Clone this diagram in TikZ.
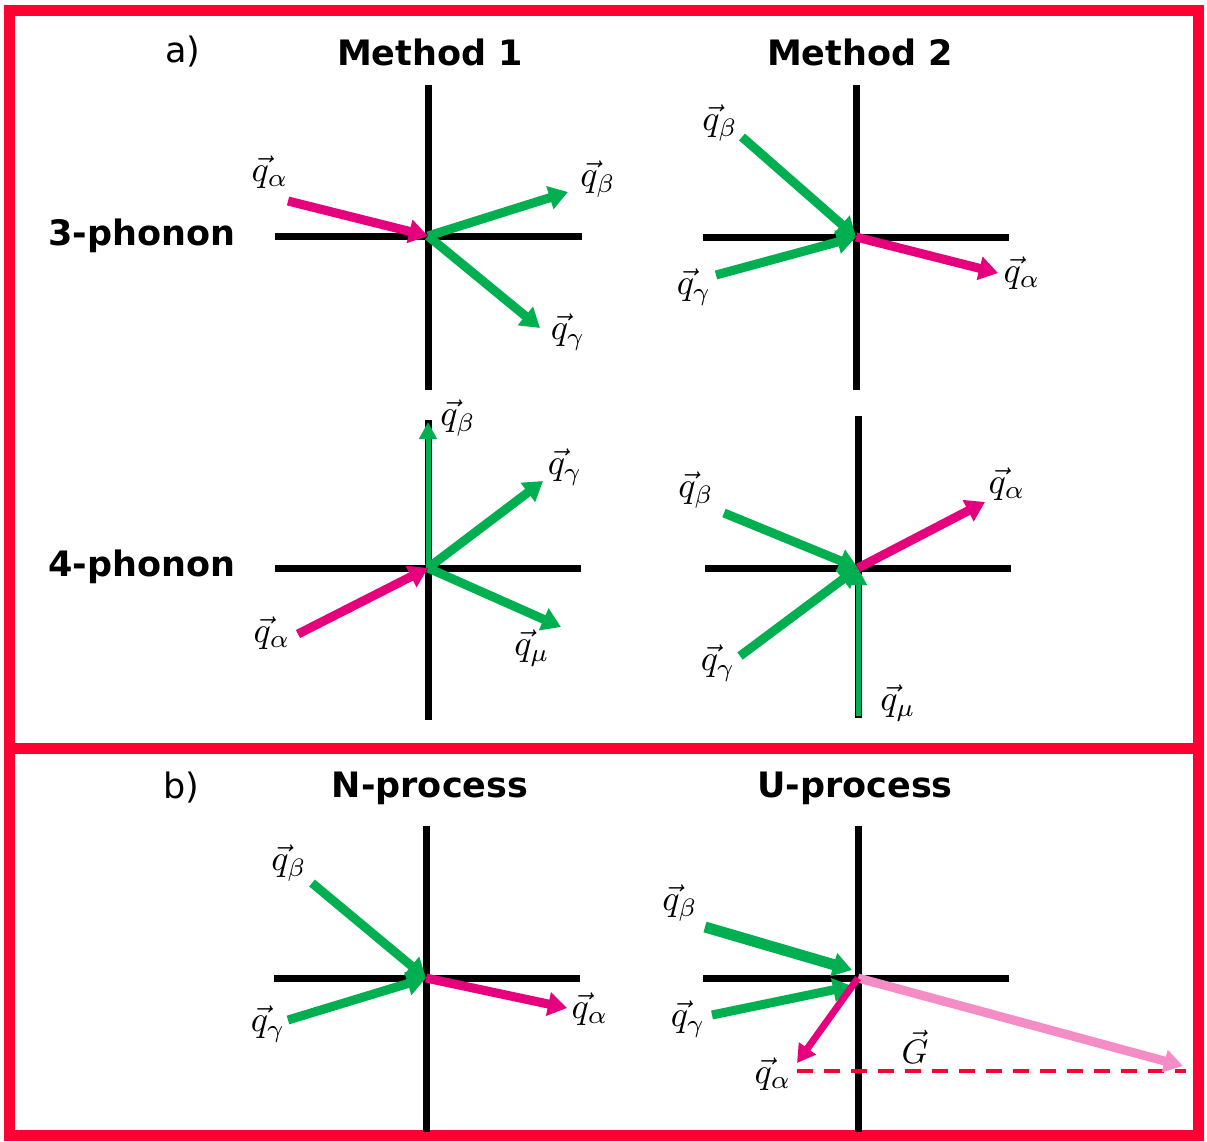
\documentclass[tikz,border=0pt]{standalone}
\usepackage{fontspec}
\setmainfont{DejaVu Sans}
\usetikzlibrary{arrows.meta}
\definecolor{fr}{RGB}{255,0,51}
\definecolor{gr}{RGB}{0,176,80}
\definecolor{mg}{RGB}{230,0,126}
\newcommand{\qv}[1]{\scalebox{3.6}{$\vec{q}_{#1}$}}
\newcommand{\Gv}{\scalebox{3.4}{$\vec{G}$}}
\tikzset{
 axis/.style={line width=7pt, black},
 vec/.style={line width=9pt, -{Triangle[length=19pt,width=23pt]}},
 thinvec/.style={line width=5pt, -{Triangle[length=17pt,width=17pt]}},
 gvec/.style={vec, draw=gr},
 mvec/.style={vec, draw=mg},
 lbl/.style={inner sep=0pt},
 ttl/.style={font=\fontsize{35}{42}\selectfont\bfseries, inner sep=0pt},
 plain/.style={font=\fontsize{35}{42}\selectfont, inner sep=0pt},
}
\begin{document}
\begin{tikzpicture}[x=1pt,y=-1pt]
\useasboundingbox (0,0) rectangle (1207,1142);
% frame
\draw[fr, line width=11pt] (9,11) rectangle (1198,1135);
\draw[fr, line width=11pt] (9,748) -- (1198,748);
% titles
\node[plain] (ta) at (183,52) {a)};
\node[ttl] (tm1) at (430,52) {Method 1};
\node[ttl] (tm2) at (860,52) {Method 2};
\node[ttl] (t3) at (142,236) {3-phonon};
\node[ttl] (t4) at (142,567) {4-phonon};
\node[plain] (tb) at (181,788) {b)};
\node[ttl] (tn) at (430,788) {N-process};
\node[ttl] (tu) at (855,788) {U-process};

% ---------- panel 1: method 1, 3-phonon
\coordinate (O1) at (428,236);
\draw[axis] (428,85) -- (428,390);
\draw[axis] (275,236) -- (582,236);
\coordinate (a1) at (288,201);
\coordinate (b1) at (568,192);
\coordinate (c1) at (540,328);
\draw[mvec] (a1) -- (O1);
\draw[gvec] (O1) -- (b1);
\draw[gvec] (O1) -- (c1);
\node[lbl] (la1) at (270,172) {\qv\alpha};
\node[lbl] (lb1) at (598,179) {\qv\beta};
\node[lbl] (lc1) at (568,332) {\qv\gamma};

% ---------- panel 2: method 2, 3-phonon
\coordinate (O2) at (856,237);
\draw[axis] (856,85) -- (856,390);
\draw[axis] (703,237) -- (1009,237);
\coordinate (b2) at (742,137);
\coordinate (c2) at (716,275);
\coordinate (a2) at (998,273);
\draw[gvec] (b2) -- (O2);
\draw[gvec] (c2) -- (O2);
\draw[mvec] (O2) -- (a2);
\node[lbl] (lb2) at (720,123) {\qv\beta};
\node[lbl] (lc2) at (694,287) {\qv\gamma};
\node[lbl] (la2) at (1022,273) {\qv\alpha};

% ---------- panel 3: method 1, 4-phonon
\coordinate (O3) at (428,568);
\draw[axis] (428,420) -- (428,720);
\draw[axis] (275,568) -- (581,568);
\coordinate (b3) at (428,422);
\coordinate (c3) at (543,481);
\coordinate (m3) at (561,627);
\coordinate (a3) at (298,634);
\draw[thinvec, draw=gr] (O3) -- (b3);
\draw[gvec] (O3) -- (c3);
\draw[gvec] (O3) -- (m3);
\draw[mvec] (a3) -- (O3);
\node[lbl] (lb3) at (458,418) {\qv\beta};
\node[lbl] (lc3) at (565,467) {\qv\gamma};
\node[lbl] (lm3) at (532,648) {\qv\mu};
\node[lbl] (la3) at (272,633) {\qv\alpha};

% ---------- panel 4: method 2, 4-phonon
\coordinate (O4) at (858,568);
\draw[axis] (858,416) -- (858,718);
\draw[axis] (705,568) -- (1011,568);
\coordinate (b4) at (724,513);
\coordinate (c4) at (740,656);
\coordinate (m4) at (858,716);
\coordinate (a4) at (985,502);
\draw[gvec] (b4) -- (O4);
\draw[gvec] (c4) -- (O4);
\draw[thinvec, draw=gr] (m4) -- (O4);
\draw[mvec] (O4) -- (a4);
\node[lbl] (lb4) at (696,490) {\qv\beta};
\node[lbl] (lc4) at (718,663) {\qv\gamma};
\node[lbl] (lm4) at (898,703) {\qv\mu};
\node[lbl] (la4) at (1007,484) {\qv\alpha};

% ---------- panel 5: N-process
\coordinate (O5) at (426,978);
\draw[axis] (426,826) -- (426,1132);
\draw[axis] (274,978) -- (580,978);
\coordinate (b5) at (312,883);
\coordinate (c5) at (288,1020);
\coordinate (a5) at (567,1008);
\draw[gvec] (b5) -- (O5);
\draw[gvec] (c5) -- (O5);
\draw[mvec] (O5) -- (a5);
\node[lbl] (lb5) at (289,863) {\qv\beta};
\node[lbl] (lc5) at (268,1024) {\qv\gamma};
\node[lbl] (la5) at (590,1009) {\qv\alpha};

% ---------- panel 6: U-process
\coordinate (O6) at (858,978);
\draw[axis] (858,826) -- (858,1132);
\draw[axis] (703,978) -- (1009,978);
\coordinate (b6) at (705,927);
\coordinate (b6e) at (852,970);
\coordinate (c6) at (712,1015);
\coordinate (c6e) at (852,986);
\coordinate (a6) at (797,1063);
\coordinate (g6) at (1183,1066);
\coordinate (d6) at (797,1071);
\coordinate (d6e) at (1186,1071);
\draw[fr, line width=4pt, dash pattern=on 16pt off 11pt] (d6) -- (d6e);
\draw[line width=9pt, draw=mg!45, -{Triangle[length=19pt,width=22pt]}] (O6) -- (g6);
\draw[vec, line width=11pt, draw=gr] (b6) -- (b6e);
\draw[gvec] (c6) -- (c6e);
\draw[mvec, line width=7pt, -{Triangle[length=18pt,width=20pt]}] (O6) -- (a6);
\node[lbl] (lb6) at (680,903) {\qv\beta};
\node[lbl] (lc6) at (688,1019) {\qv\gamma};
\node[lbl] (la6) at (773,1074) {\qv\alpha};
\node[lbl] (lg6) at (915,1047) {\Gv};
\end{tikzpicture}
\end{document}
